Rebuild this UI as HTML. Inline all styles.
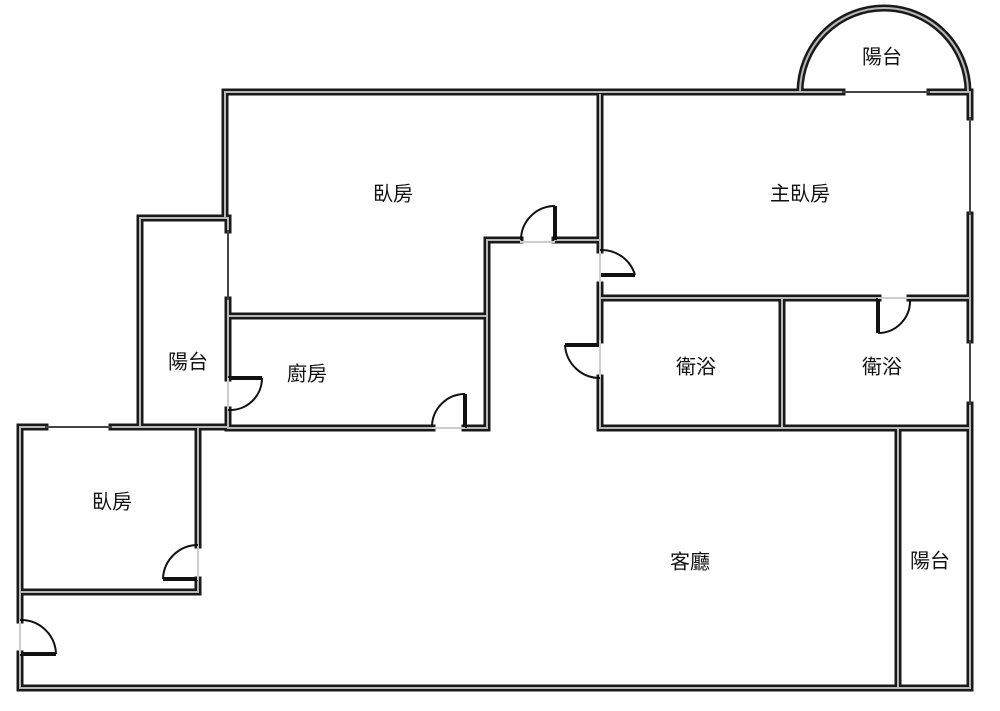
<!DOCTYPE html>
<html><head><meta charset="utf-8"><style>
html,body{margin:0;padding:0;background:#fff;width:1000px;height:711px;overflow:hidden}
svg{display:block}
text{font-family:"Liberation Sans","Noto Sans CJK TC",sans-serif;font-size:20px;fill:#111;text-anchor:middle;dominant-baseline:middle}
</style></head><body>
<svg width="1000" height="711" viewBox="0 0 1000 711">
<defs>
<g id="w">
<path d="M225 218 V92 H842 M930 92 H970 V117 M970 215 V340 M970 405 V688 H20 V654 M20 620 V427 H45 M112 427 H228 M140 427 V218 H228"/>
<path d="M228 218 V230 M228 300 V378 M228 410 V428"/>
<path d="M228 316 H487 M228 428 H432 M465 428 H487 V240 H520 M555 240 H600 M600 95 V250 M600 285 V340 M600 378 V428 H970"/>
<path d="M600 298 H878 M910 298 H970 M782 298 V428 M898 428 V688"/>
<path d="M198 428 V545 M198 580 V592 H20"/>
<path d="M800 92 A84 84 0 0 1 968 92" fill="none"/>
</g>
</defs>
<g fill="none" stroke-linecap="square">
<use href="#w" stroke="#1a1a1a" stroke-width="7"/>
<use href="#w" stroke="#b8b8b8" stroke-width="2"/>
</g>
<!-- door leaves -->
<path d="M555 240 V206 M600 275 H635 M600 345 H565 M465 428 V394 M228 378 H262 M878 298 V333 M198 579 H163 M20 654 H56" stroke="#111" stroke-width="4" fill="none"/>
<g stroke="#444" stroke-width="2" fill="none">
<line x1="842" y1="92" x2="930" y2="92"/>
<line x1="970" y1="117" x2="970" y2="215"/>
<line x1="970" y1="340" x2="970" y2="405"/>
<line x1="228" y1="230" x2="228" y2="300"/>
<line x1="45" y1="427" x2="112" y2="427"/>
</g>
<g stroke="#ccc" stroke-width="2" fill="none">
<line x1="520" y1="242" x2="555" y2="242"/>
<line x1="600" y1="250" x2="600" y2="285"/>
<line x1="600" y1="340" x2="600" y2="378"/>
<line x1="432" y1="428" x2="465" y2="428"/>
<line x1="228" y1="378" x2="228" y2="410"/>
<line x1="878" y1="298" x2="910" y2="298"/>
<line x1="198" y1="545" x2="198" y2="580"/>
<line x1="20" y1="620" x2="20" y2="654"/>
</g>
<g stroke="#111" stroke-width="2" fill="none">
<path d="M555 206 A34 34 0 0 0 521 240"/>
<path d="M635 275 A35 35 0 0 0 600 250"/>
<path d="M565 345 A35 35 0 0 0 600 378"/>
<path d="M465 394 A33 33 0 0 0 432 427"/>
<path d="M262 378 A32 32 0 0 1 228 410"/>
<path d="M878 333 A32 32 0 0 0 910 300"/>
<path d="M163 579 A35 35 0 0 1 198 545"/>
<path d="M56 654 A35 35 0 0 0 20 620"/>
</g>
<text x="393" y="195">臥房</text>
<text x="800" y="195">主臥房</text>
<text x="188" y="363">陽台</text>
<text x="307" y="375">廚房</text>
<text x="696" y="368">衛浴</text>
<text x="882" y="368">衛浴</text>
<text x="112" y="503">臥房</text>
<text x="690" y="563">客廳</text>
<text x="930" y="562">陽台</text>
<text x="882" y="58">陽台</text>
</svg>
</body></html>
